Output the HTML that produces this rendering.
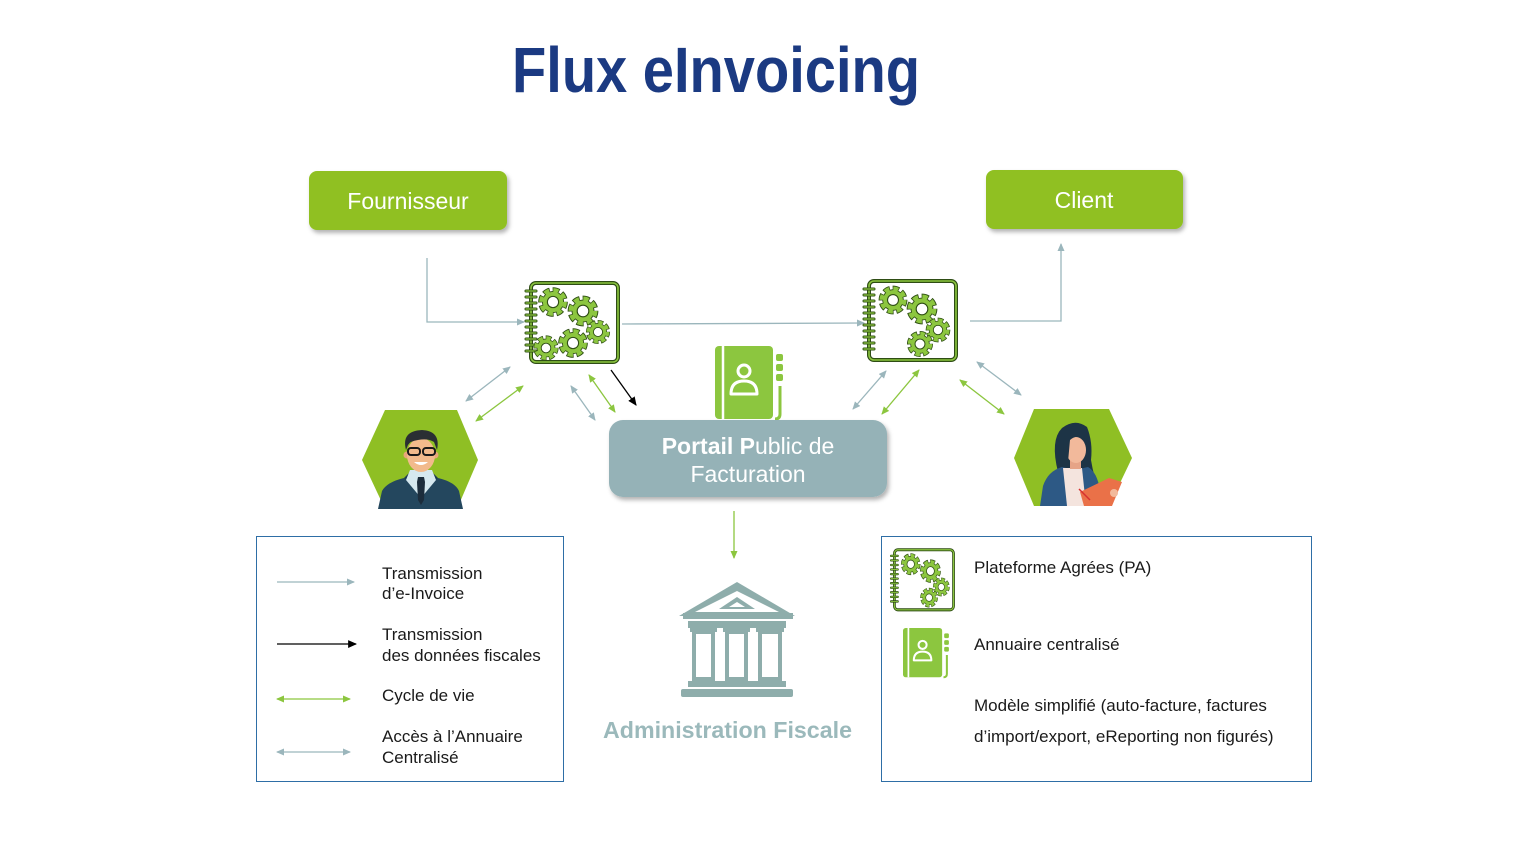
<!DOCTYPE html>
<html><head><meta charset="utf-8"><style>
html,body{margin:0;padding:0;background:#fff;}
svg{display:block;}
text{font-family:"Liberation Sans",Arial,sans-serif;}
</style></head><body>
<svg width="1536" height="864" viewBox="0 0 1536 864" xmlns="http://www.w3.org/2000/svg">
<defs>
  <filter id="sh" x="-10%" y="-20%" width="130%" height="160%">
    <feDropShadow dx="2" dy="3" stdDeviation="2" flood-color="#000" flood-opacity="0.3"/>
  </filter>
  <marker id="mg" viewBox="0 0 8 7" refX="7" refY="3.5" markerWidth="8" markerHeight="7" markerUnits="userSpaceOnUse" orient="auto-start-reverse"><path d="M0,0 L8,3.5 L0,7 z" fill="#9bb6bc"/></marker>
  <marker id="mgr" viewBox="0 0 8 7" refX="7" refY="3.5" markerWidth="8" markerHeight="7" markerUnits="userSpaceOnUse" orient="auto-start-reverse"><path d="M0,0 L8,3.5 L0,7 z" fill="#8cc63f"/></marker>
  <marker id="mk" viewBox="0 0 8 7" refX="7" refY="3.5" markerWidth="9" markerHeight="8" markerUnits="userSpaceOnUse" orient="auto-start-reverse"><path d="M0,0 L8,3.5 L0,7 z" fill="#000"/></marker>

  <g id="gear">
    <circle r="10.2" fill="none" stroke="#2e4d14" stroke-width="7" stroke-dasharray="5.6 2.41" stroke-dashoffset="0.6"/>
    <circle r="10.2" fill="#2e4d14"/>
    <circle r="10.2" fill="none" stroke="#8cc63f" stroke-width="5.4" stroke-dasharray="4.4 3.61"/>
    <circle r="9.4" fill="#8cc63f"/>
    <circle r="5.2" fill="#fff" stroke="#2e4d14" stroke-width="1"/>
  </g>

  <g id="frame">
    <rect x="5" y="1" width="87" height="79" rx="5" fill="#fff" stroke="#2e4d14" stroke-width="4"/>
    <rect x="5" y="1" width="87" height="79" rx="5" fill="none" stroke="#8cc63f" stroke-width="1.6"/>
    <g stroke="#2e4d14" stroke-width="3" stroke-linecap="round">
      <line x1="0" y1="9" x2="10" y2="9"/><line x1="0" y1="15" x2="10" y2="15"/><line x1="0" y1="21" x2="10" y2="21"/>
      <line x1="0" y1="27" x2="10" y2="27"/><line x1="0" y1="33" x2="10" y2="33"/><line x1="0" y1="39" x2="10" y2="39"/>
      <line x1="0" y1="45" x2="10" y2="45"/><line x1="0" y1="51" x2="10" y2="51"/><line x1="0" y1="57" x2="10" y2="57"/>
      <line x1="0" y1="63" x2="10" y2="63"/><line x1="0" y1="69" x2="10" y2="69"/>
    </g>
    <g stroke="#8cc63f" stroke-width="1.3" stroke-linecap="round">
      <line x1="0" y1="9" x2="10" y2="9"/><line x1="0" y1="15" x2="10" y2="15"/><line x1="0" y1="21" x2="10" y2="21"/>
      <line x1="0" y1="27" x2="10" y2="27"/><line x1="0" y1="33" x2="10" y2="33"/><line x1="0" y1="39" x2="10" y2="39"/>
      <line x1="0" y1="45" x2="10" y2="45"/><line x1="0" y1="51" x2="10" y2="51"/><line x1="0" y1="57" x2="10" y2="57"/>
      <line x1="0" y1="63" x2="10" y2="63"/><line x1="0" y1="69" x2="10" y2="69"/>
    </g>
  </g>

  <g id="pa2">
    <use href="#frame"/>
    <use href="#gear" transform="translate(29,20) scale(1.05)"/>
    <use href="#gear" transform="translate(58,29) scale(1.12)"/>
    <use href="#gear" transform="translate(74,50) scale(0.9)"/>
    <use href="#gear" transform="translate(56,64) scale(0.95)"/>
  </g>

  <g id="book">
    <rect x="715" y="346" width="58" height="73" rx="4" fill="#8cc63f"/>
    <line x1="723" y1="346" x2="723" y2="419" stroke="#fff" stroke-width="2.5"/>
    <rect x="776" y="354" width="7" height="7" rx="2" fill="#8cc63f"/>
    <rect x="776" y="364" width="7" height="7" rx="2" fill="#8cc63f"/>
    <rect x="776" y="374" width="7" height="7" rx="2" fill="#8cc63f"/>
    <path d="M780,386 L780,414 Q780,419 775,419" fill="none" stroke="#8cc63f" stroke-width="3"/>
    <circle cx="744" cy="371" r="6" fill="none" stroke="#fff" stroke-width="3"/>
    <path d="M731,394 Q731,381 744,381 Q757,381 757,394 Z" fill="none" stroke="#fff" stroke-width="3" stroke-linejoin="round"/>
  </g>
</defs>

<!-- Title -->
<text x="512" y="92" font-size="64" font-weight="bold" fill="#1b3a82" textLength="408" lengthAdjust="spacingAndGlyphs">Flux eInvoicing</text>

<!-- Fournisseur / Client -->
<rect x="309" y="171" width="198" height="59" rx="8" fill="#90c021" filter="url(#sh)"/>
<text x="408" y="209" font-size="23" fill="#fff" text-anchor="middle">Fournisseur</text>
<rect x="986" y="170" width="197" height="59" rx="8" fill="#90c021" filter="url(#sh)"/>
<text x="1084" y="208" font-size="23" fill="#fff" text-anchor="middle">Client</text>

<!-- connectors -->
<polyline points="427,258 427,322 524,322" fill="none" stroke="#9bb6bc" stroke-width="1.3" marker-end="url(#mg)"/>
<line x1="622" y1="324" x2="864" y2="323" stroke="#9bb6bc" stroke-width="1.3" marker-end="url(#mg)"/>
<polyline points="970,321 1061,321 1061,244" fill="none" stroke="#9bb6bc" stroke-width="1.3" marker-end="url(#mg)"/>

<!-- PA1 -->
<g transform="translate(526,282)">
  <use href="#frame"/>
  <use href="#gear" transform="translate(27,20) scale(1.08)"/>
  <use href="#gear" transform="translate(57,29) scale(1.12)"/>
  <use href="#gear" transform="translate(72,50) scale(0.88)"/>
  <use href="#gear" transform="translate(47,61) scale(1.08)"/>
  <use href="#gear" transform="translate(20,66) scale(0.92)"/>
</g>
<!-- PA2 -->
<g transform="translate(864,280)"><use href="#pa2"/></g>

<!-- Annuaire -->
<use href="#book"/>

<!-- diagonal arrows -->
<g stroke-width="1.3" fill="none">
  <line x1="466" y1="401" x2="510" y2="367" stroke="#9bb6bc" marker-start="url(#mg)" marker-end="url(#mg)"/>
  <line x1="476" y1="421" x2="523" y2="386" stroke="#8cc63f" marker-start="url(#mgr)" marker-end="url(#mgr)"/>
  <line x1="571" y1="386" x2="595" y2="420" stroke="#9bb6bc" marker-start="url(#mg)" marker-end="url(#mg)"/>
  <line x1="589" y1="375" x2="615" y2="412" stroke="#8cc63f" marker-start="url(#mgr)" marker-end="url(#mgr)"/>
  <line x1="611" y1="370" x2="636" y2="405" stroke="#000" marker-end="url(#mk)"/>
  <line x1="853" y1="409" x2="886" y2="371" stroke="#9bb6bc" marker-start="url(#mg)" marker-end="url(#mg)"/>
  <line x1="882" y1="414" x2="919" y2="370" stroke="#8cc63f" marker-start="url(#mgr)" marker-end="url(#mgr)"/>
  <line x1="960" y1="380" x2="1004" y2="414" stroke="#8cc63f" marker-start="url(#mgr)" marker-end="url(#mgr)"/>
  <line x1="977" y1="362" x2="1021" y2="395" stroke="#9bb6bc" marker-start="url(#mg)" marker-end="url(#mg)"/>
</g>

<!-- Portail -->
<rect x="609" y="420" width="278" height="77" rx="14" fill="#95b2b7" filter="url(#sh)"/>
<text x="748" y="454" font-size="23" fill="#fff" text-anchor="middle"><tspan font-weight="bold">Portail P</tspan>ublic de</text>
<text x="748" y="482" font-size="23" fill="#fff" text-anchor="middle">Facturation</text>

<!-- down arrow -->
<line x1="734" y1="511" x2="734" y2="558" stroke="#8cc63f" stroke-width="1.3" marker-end="url(#mgr)"/>

<!-- Building -->
<g fill="#8eadab">
  <polygon points="737,582 679,616 795,616"/>
  <polygon points="737,591 695,612 779,612" fill="#fff"/>
  <polygon points="737,597 719,609 755,609"/>
  <polygon points="737,602 729,607 745,607" fill="#fff"/>
  <rect x="683" y="613" width="110" height="6"/>
  <rect x="688" y="621" width="98" height="7"/>
  <rect x="688" y="681" width="98" height="6"/>
  <rect x="681" y="689" width="112" height="8" rx="2"/>
</g>
<g fill="#fff" stroke="#8eadab" stroke-width="4">
  <rect x="694" y="632" width="19" height="47"/>
  <rect x="727" y="632" width="19" height="47"/>
  <rect x="760" y="632" width="20" height="47"/>
</g>
<g fill="#8eadab">
  <rect x="690" y="628" width="27" height="4"/>
  <rect x="723" y="628" width="27" height="4"/>
  <rect x="756" y="628" width="28" height="4"/>
</g>
<text x="603" y="738" font-size="23" font-weight="bold" fill="#9bb9bb" textLength="249" lengthAdjust="spacingAndGlyphs">Administration Fiscale</text>

<!-- Left hexagon + man -->
<polygon points="385,410 457,410 478,460 457,509 385,509 362,460" fill="#8fbf24"/>
<path d="M378,509 L382,491 Q387,482 404,478 L421,485 L438,478 Q455,482 459,491 L463,509 Z" fill="#24475e"/>
<path d="M404,478 L412,470 L420,490 Z M438,478 L430,470 L422,490 Z" fill="#1d3b50"/>
<rect x="414" y="462" width="14" height="12" fill="#e8a679"/>
<polygon points="410,470 432,470 436,480 421,498 406,480" fill="#d5e8ef"/>
<polygon points="418,477 424,477 425,482 424,500 421,505 418,500 417,482" fill="#1c2d3c"/>
<circle cx="407" cy="455" r="3.5" fill="#e8a679"/>
<circle cx="435" cy="455" r="3.5" fill="#e8a679"/>
<ellipse cx="421" cy="455" rx="14" ry="17" fill="#f2ba8c"/>
<path d="M406,450 Q401,431 422,430 Q441,431 437,450 L434,442 Q428,438 418,440 Q410,441 408,445 Z" fill="#2a2e33"/>
<rect x="408" y="448" width="12" height="7" rx="3" fill="none" stroke="#1a1a1a" stroke-width="2"/>
<rect x="423" y="448" width="12" height="7" rx="3" fill="none" stroke="#1a1a1a" stroke-width="2"/>
<path d="M414,462 Q421,468 428,462 Z" fill="#fff"/>

<!-- Right hexagon + woman -->
<polygon points="1034,409 1109,409 1132,458 1109,506 1034,506 1014,458" fill="#8fbf24"/>
<path d="M1058,472 Q1050,440 1062,428 Q1075,418 1087,427 Q1093,442 1091,460 Q1094,478 1099,490 L1080,488 Z" fill="#1d3446"/>
<path d="M1040,506 L1043,486 Q1048,471 1062,467 L1075,470 L1088,467 Q1097,472 1100,490 L1104,506 Z" fill="#2d5985"/>
<polygon points="1063,468 1082,468 1086,506 1067,506" fill="#f4e4de"/>
<rect x="1070" y="457" width="11" height="12" fill="#e6a487"/>
<ellipse cx="1076" cy="450" rx="10" ry="13" fill="#f2b99b"/>
<path d="M1064,452 Q1061,428 1078,425 Q1090,427 1087,440 Q1078,433 1070,440 L1068,462 Z" fill="#1d3446"/>
<polygon points="1080,492 1109,478 1122,482 1112,506 1084,506" fill="#ea7148"/>
<line x1="1079" y1="489" x2="1090" y2="500" stroke="#d63030" stroke-width="1.5"/>
<circle cx="1114" cy="493" r="4" fill="#f2b99b"/>

<!-- Left legend -->
<rect x="256.5" y="536.5" width="307" height="245" fill="none" stroke="#2e6ea6" stroke-width="1"/>
<g stroke-width="1.3">
  <line x1="277" y1="582" x2="354" y2="582" stroke="#9bb6bc" marker-end="url(#mg)"/>
  <line x1="277" y1="644" x2="356" y2="644" stroke="#000" marker-end="url(#mk)"/>
  <line x1="277" y1="699" x2="350" y2="699" stroke="#8cc63f" marker-start="url(#mgr)" marker-end="url(#mgr)"/>
  <line x1="277" y1="752" x2="350" y2="752" stroke="#9bb6bc" marker-start="url(#mg)" marker-end="url(#mg)"/>
</g>
<g font-size="17" fill="#1a1a1a">
  <text x="382" y="579">Transmission</text>
  <text x="382" y="599">d’e-Invoice</text>
  <text x="382" y="640">Transmission</text>
  <text x="382" y="661">des données fiscales</text>
  <text x="382" y="701">Cycle de vie</text>
  <text x="382" y="742">Accès à l’Annuaire</text>
  <text x="382" y="763">Centralisé</text>
</g>

<!-- Right legend -->
<rect x="881.5" y="536.5" width="430" height="245" fill="none" stroke="#2e6ea6" stroke-width="1"/>
<g transform="translate(891,549) scale(0.68,0.76)"><use href="#pa2"/></g>
<g transform="translate(903,628) scale(0.675) translate(-715,-346)"><use href="#book"/></g>
<g font-size="17" fill="#1a1a1a">
  <text x="974" y="573">Plateforme Agrées (PA)</text>
  <text x="974" y="650">Annuaire centralisé</text>
  <text x="974" y="711">Modèle simplifié (auto-facture, factures</text>
  <text x="974" y="742">d’import/export, eReporting non figurés)</text>
</g>
</svg>
</body></html>
